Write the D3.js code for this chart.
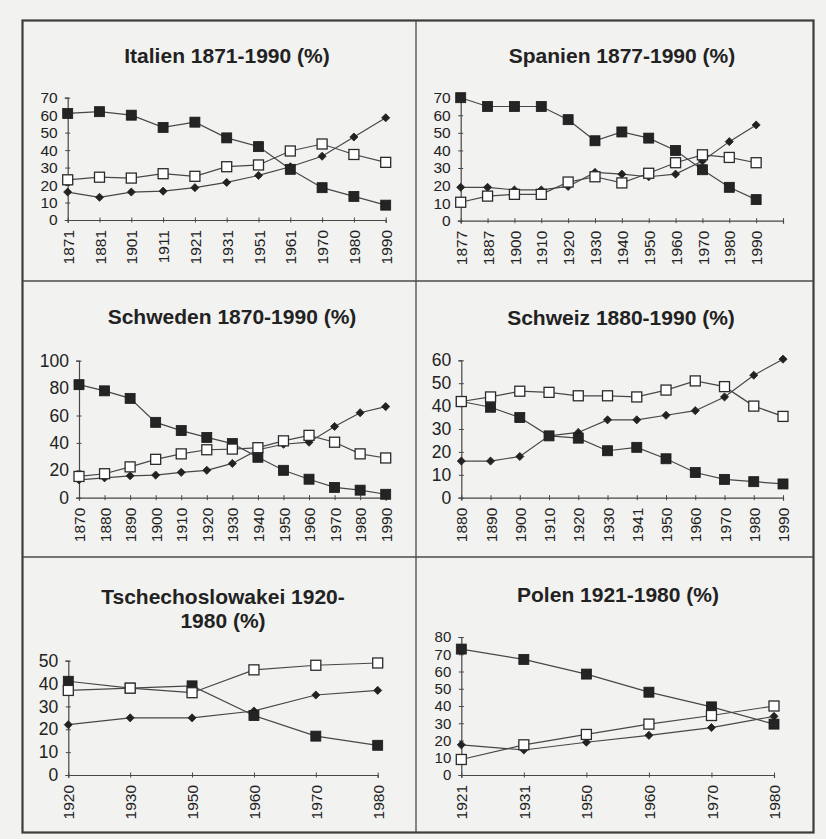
<!DOCTYPE html>
<html>
<head>
<meta charset="utf-8">
<script src="https://cdn.jsdelivr.net/npm/d3@7"></script>
<style>
  html, body { margin: 0; padding: 0; background: #f2f2f0; }
  svg { display: block; }
  text { font-family: "Liberation Sans", Arial, sans-serif; fill: #222; }
</style>
</head>
<body>
<svg id="chart" width="826" height="839"></svg>
<script>
// ---------- DATA ----------
const itYears = ["1871","1881","1901","1911","1921","1931","1951","1961","1970","1980","1990"];
const itAgr   = [61, 62, 60, 53, 56, 47, 42, 29, 18.5, 13.5, 8.5];
const itInd   = [23, 24.5, 24, 26.5, 25, 30.5, 31.5, 39.5, 43.5, 37.5, 33];
const itServ  = [16, 13, 16, 16.5, 18.5, 21.5, 25.5, 30.5, 36.5, 47.5, 58.5];

const esYears = ["1877","1887","1900","1910","1920","1930","1940","1950","1960","1970","1980","1990"];
const esAgr   = [70, 65, 65, 65, 57.5, 45.5, 50.5, 47, 40, 29, 19, 12];
const esInd   = [10.5, 14, 15, 15, 22, 25, 21.5, 27, 33, 37.5, 36, 33];
const esServ  = [19, 19, 17.5, 17.5, 19.5, 27.5, 26.5, 25, 26.5, 34, 45, 54.5];

const seYears = ["1870","1880","1890","1900","1910","1920","1930","1940","1950","1960","1970","1980","1990"];
const seAgr   = [82.5, 78, 72.5, 55, 49, 44, 39.5, 29.5, 20, 13.5, 7.5, 5.5, 2.5];
const seInd   = [15.5, 17.5, 22.5, 28, 32, 35, 35.5, 36.5, 41.5, 45.5, 40.5, 32, 29];
const seServ  = [13, 14.5, 16, 16.5, 18.5, 20, 25, 35, 39, 40.5, 52, 62, 66.5];

const chYears = ["1880","1890","1900","1910","1920","1930","1941","1950","1960","1970","1980","1990"];
const chAgr   = [42, 39.5, 35, 27, 26, 20.5, 22, 17, 11, 8, 7, 6];
const chInd   = [42, 44, 46.5, 46, 44.5, 44.5, 44, 47, 51, 48.5, 40, 35.5];
const chServ  = [16, 16, 18, 27, 28.5, 34, 34, 36, 38, 44, 53.5, 60.5];

const csYears = ["1920","1930","1950","1960","1970","1980"];
const csAgr   = [41, 38, 39, 26, 17, 13];
const csInd   = [37, 38, 36, 46, 48, 49];
const csServ  = [22, 25, 25, 28, 35, 37];

const plYears = ["1921","1931","1950","1960","1970","1980"];
const plAgr   = [73, 67, 58.5, 48, 39.5, 29.5];
const plInd   = [9, 17.5, 23.5, 29.5, 34.5, 40];
const plServ  = [17.5, 14.5, 19, 23, 27.5, 34];

const titles = [
  ["Italien 1871-1990 (%)"],
  ["Spanien 1877-1990 (%)"],
  ["Schweden 1870-1990 (%)"],
  ["Schweiz 1880-1990 (%)"],
  ["Tschechoslowakei 1920-", "1980 (%)"],
  ["Polen 1921-1980 (%)"]
];
const yMax  = [70, 70, 100, 60, 50, 80];
const yStep = [10, 10, 20, 10, 10, 10];

// ---------- LAYOUT ----------
const panels = [
  { years: itYears, agr: itAgr, ind: itInd, serv: itServ, x0: 67.7,  x1: 385.7, extra: 0, y0: 220,   yT: 97.7,  tx: 227, ty: [63],  fs: 15.5 },
  { years: esYears, agr: esAgr, ind: esInd, serv: esServ, x0: 460.7, x1: 783,   extra: 1, y0: 220.7, yT: 97.7,  tx: 622, ty: [63],  fs: 15.5 },
  { years: seYears, agr: seAgr, ind: seInd, serv: seServ, x0: 79,    x1: 385.7, extra: 0, y0: 497.7, yT: 360.7, tx: 232, ty: [324], fs: 17.5 },
  { years: chYears, agr: chAgr, ind: chInd, serv: chServ, x0: 461.3, x1: 783,   extra: 0, y0: 497.7, yT: 360.3, tx: 621, ty: [325], fs: 17.5 },
  { years: csYears, agr: csAgr, ind: csInd, serv: csServ, x0: 68.3,  x1: 377.7, extra: 0, y0: 775,   yT: 660.7, tx: 223, ty: [604, 628], fs: 17.5 },
  { years: plYears, agr: plAgr, ind: plInd, serv: plServ, x0: 461.3, x1: 774,   extra: 0, y0: 775,   yT: 637,   tx: 618, ty: [602], fs: 15 }
];

const svg = d3.select("#chart");
const ink = "#222";
const lineCol = "#474747";

panels.forEach((p, i) => {
  const g = svg.append("g");
  const n = p.years.length - 1 + p.extra;
  const x = d3.scaleLinear().domain([0, n]).range([p.x0, p.x1]);
  const y = d3.scaleLinear().domain([0, yMax[i]]).range([p.y0, p.yT]);

  // title
  titles[i].forEach((t, k) => {
    g.append("text").attr("x", p.tx).attr("y", p.ty[k])
      .attr("text-anchor", "middle").attr("font-size", 21).attr("font-weight", "bold")
      .text(t);
  });

  // y axis
  const yTicks = d3.range(0, yMax[i] + 0.001, yStep[i]);
  const ya = g.append("g").attr("transform", `translate(${p.x0},0)`)
    .call(d3.axisLeft(y).tickValues(yTicks).tickSize(3).tickPadding(7));
  ya.select(".domain").attr("stroke", lineCol).attr("stroke-width", 1.2);
  ya.selectAll(".tick line").attr("x1", -2.5).attr("x2", 2.5).attr("stroke", lineCol);
  ya.selectAll(".tick text").attr("font-size", p.fs).attr("fill", ink)
    .attr("font-family", "Liberation Sans, Arial, sans-serif");

  // x axis
  const xTicks = d3.range(0, n + 1);
  const xa = g.append("g").attr("transform", `translate(0,${p.y0})`)
    .call(d3.axisBottom(x).tickValues(xTicks).tickSize(3)
      .tickFormat(k => p.years[k] !== undefined ? p.years[k] : ""));
  xa.select(".domain").attr("stroke", lineCol).attr("stroke-width", 1.2);
  xa.selectAll(".tick line").attr("y1", -2.5).attr("y2", 2.5).attr("stroke", lineCol);
  xa.selectAll(".tick text")
    .attr("font-size", 15.5).attr("fill", ink)
    .attr("font-family", "Liberation Sans, Arial, sans-serif")
    .attr("text-anchor", "end")
    .attr("transform", "rotate(-90)")
    .attr("x", -10).attr("y", 0).attr("dy", "0.36em");

  const line = d3.line().x((d, k) => x(k)).y(d => y(d));

  // services (diamonds)
  g.append("path").datum(p.serv).attr("d", line)
    .attr("fill", "none").attr("stroke", lineCol).attr("stroke-width", 1.2);
  g.selectAll(".dia").data(p.serv).enter().append("path")
    .attr("d", d3.symbol().type(d3.symbolDiamond2).size(42))
    .attr("transform", (d, k) => `translate(${x(k)},${y(d)})`)
    .attr("fill", "#222").attr("stroke", "#222").attr("stroke-width", 0.8);

  // agriculture (filled squares)
  g.append("path").datum(p.agr).attr("d", line)
    .attr("fill", "none").attr("stroke", lineCol).attr("stroke-width", 1.2);
  g.selectAll(".fsq").data(p.agr).enter().append("rect")
    .attr("x", (d, k) => x(k) - 5).attr("y", d => y(d) - 5)
    .attr("width", 10).attr("height", 10)
    .attr("fill", "#242424").attr("stroke", "#1a1a1a").attr("stroke-width", 0.8);

  // industry (open squares)
  g.append("path").datum(p.ind).attr("d", line)
    .attr("fill", "none").attr("stroke", lineCol).attr("stroke-width", 1.2);
  g.selectAll(".osq").data(p.ind).enter().append("rect")
    .attr("x", (d, k) => x(k) - 5).attr("y", d => y(d) - 5)
    .attr("width", 10).attr("height", 10)
    .attr("fill", "#ffffff").attr("stroke", "#2b2b2b").attr("stroke-width", 1.3);
});

// frame
svg.append("rect").attr("x", 22.5).attr("y", 20.5).attr("width", 791).attr("height", 812)
  .attr("fill", "none").attr("stroke", "#3c3c3c").attr("stroke-width", 2.2);
svg.append("line").attr("x1", 416).attr("x2", 416).attr("y1", 21).attr("y2", 832)
  .attr("stroke", "#4a4a4a").attr("stroke-width", 1.3);
[281, 557].forEach(yy => {
  svg.append("line").attr("x1", 23).attr("x2", 813).attr("y1", yy).attr("y2", yy)
    .attr("stroke", "#4a4a4a").attr("stroke-width", 1.3);
});
</script>
</body>
</html>
